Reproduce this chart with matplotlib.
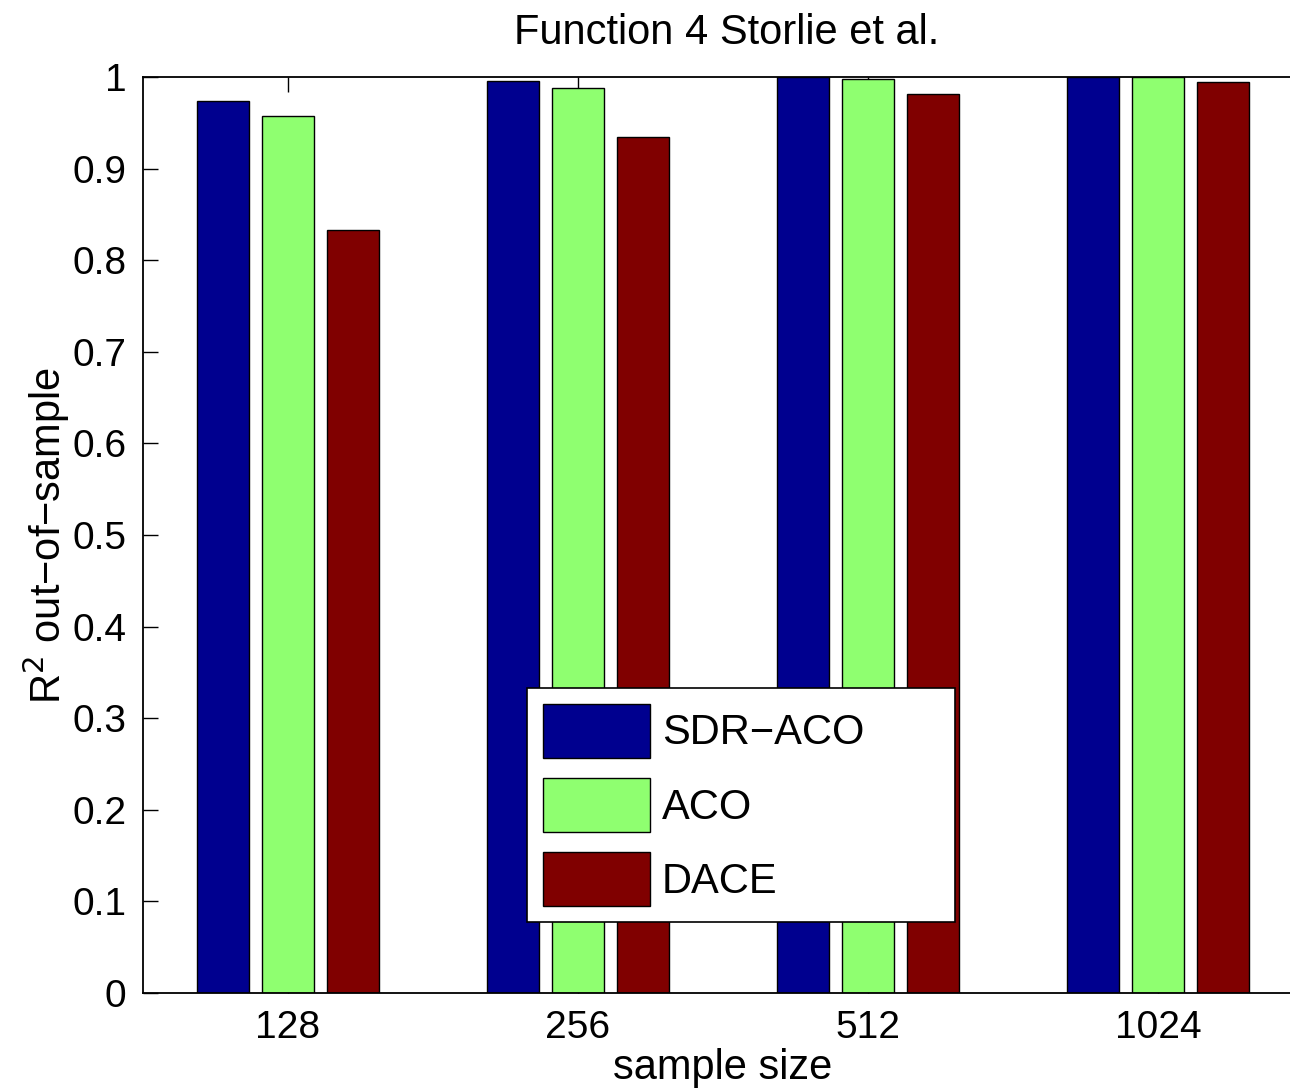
import matplotlib
matplotlib.use("Agg")
import matplotlib.pyplot as plt
import numpy as np

plt.rcParams['font.family'] = ['Liberation Sans', 'DejaVu Sans']

categories = ['128', '256', '512', '1024']
series_names = ['SDR\u2212ACO', 'ACO', 'DACE']
sdr_aco = [0.974, 0.996, 1.0, 1.0]
aco = [0.957, 0.988, 0.998, 1.0]
dace = [0.833, 0.9345, 0.981, 0.995]
colors = ['#00008F', '#8FFF70', '#800000']
yticks = [0, 0.1, 0.2, 0.3, 0.4, 0.5, 0.6, 0.7, 0.8, 0.9, 1]
ytick_labels = ['0', '0.1', '0.2', '0.3', '0.4', '0.5', '0.6', '0.7', '0.8', '0.9', '1']

fig = plt.figure(figsize=(12.9, 10.89), dpi=100)
ax = fig.add_axes([143/1290, 1-993/1089, (1303-143)/1290, (993-77)/1089])

x = np.arange(1, len(categories) + 1)
offset = 0.224
width = 0.179
for i, (vals, name, c) in enumerate(zip([sdr_aco, aco, dace], series_names, colors)):
    ax.bar(x + (i - 1) * offset, vals, width, color=c, edgecolor='black',
           linewidth=1.0, label=name, zorder=2)

ax.set_xlim(0.5, 4.5)
ax.set_ylim(0, 1)
ax.set_xticks(x)
ax.set_xticklabels(categories)
ax.set_yticks(yticks)
ax.set_yticklabels(ytick_labels)
ax.tick_params(direction='in', length=11, width=1, labelsize=28, top=True, right=False, pad=12)
for s in ax.spines.values():
    s.set_linewidth(1.3)
    s.set_zorder(3)
ax.spines['right'].set_visible(False)

ax.set_xlabel('sample size', fontsize=30, labelpad=2)
ax.set_ylabel('R$^2$ out\u2212of\u2212sample', fontsize=30, labelpad=0)
fig.text(727/1290, 1-33/1089, 'Function 4 Storlie et al.', fontsize=30,
         ha='center', va='center')

leg = ax.legend(loc='upper left', bbox_to_anchor=((527-143)/1160, (993-688)/916,
                (955-527)/1160, 0), mode='expand',
                fontsize=30, frameon=True, fancybox=False, edgecolor='black',
                framealpha=1, handlelength=2.57, handleheight=1.62, labelspacing=0.48,
                borderpad=0.38, handletextpad=0.29, borderaxespad=0)
leg.get_frame().set_linewidth(1.2)
leg.set_zorder(5)

fig.savefig('out.png', dpi=100, facecolor='white')
